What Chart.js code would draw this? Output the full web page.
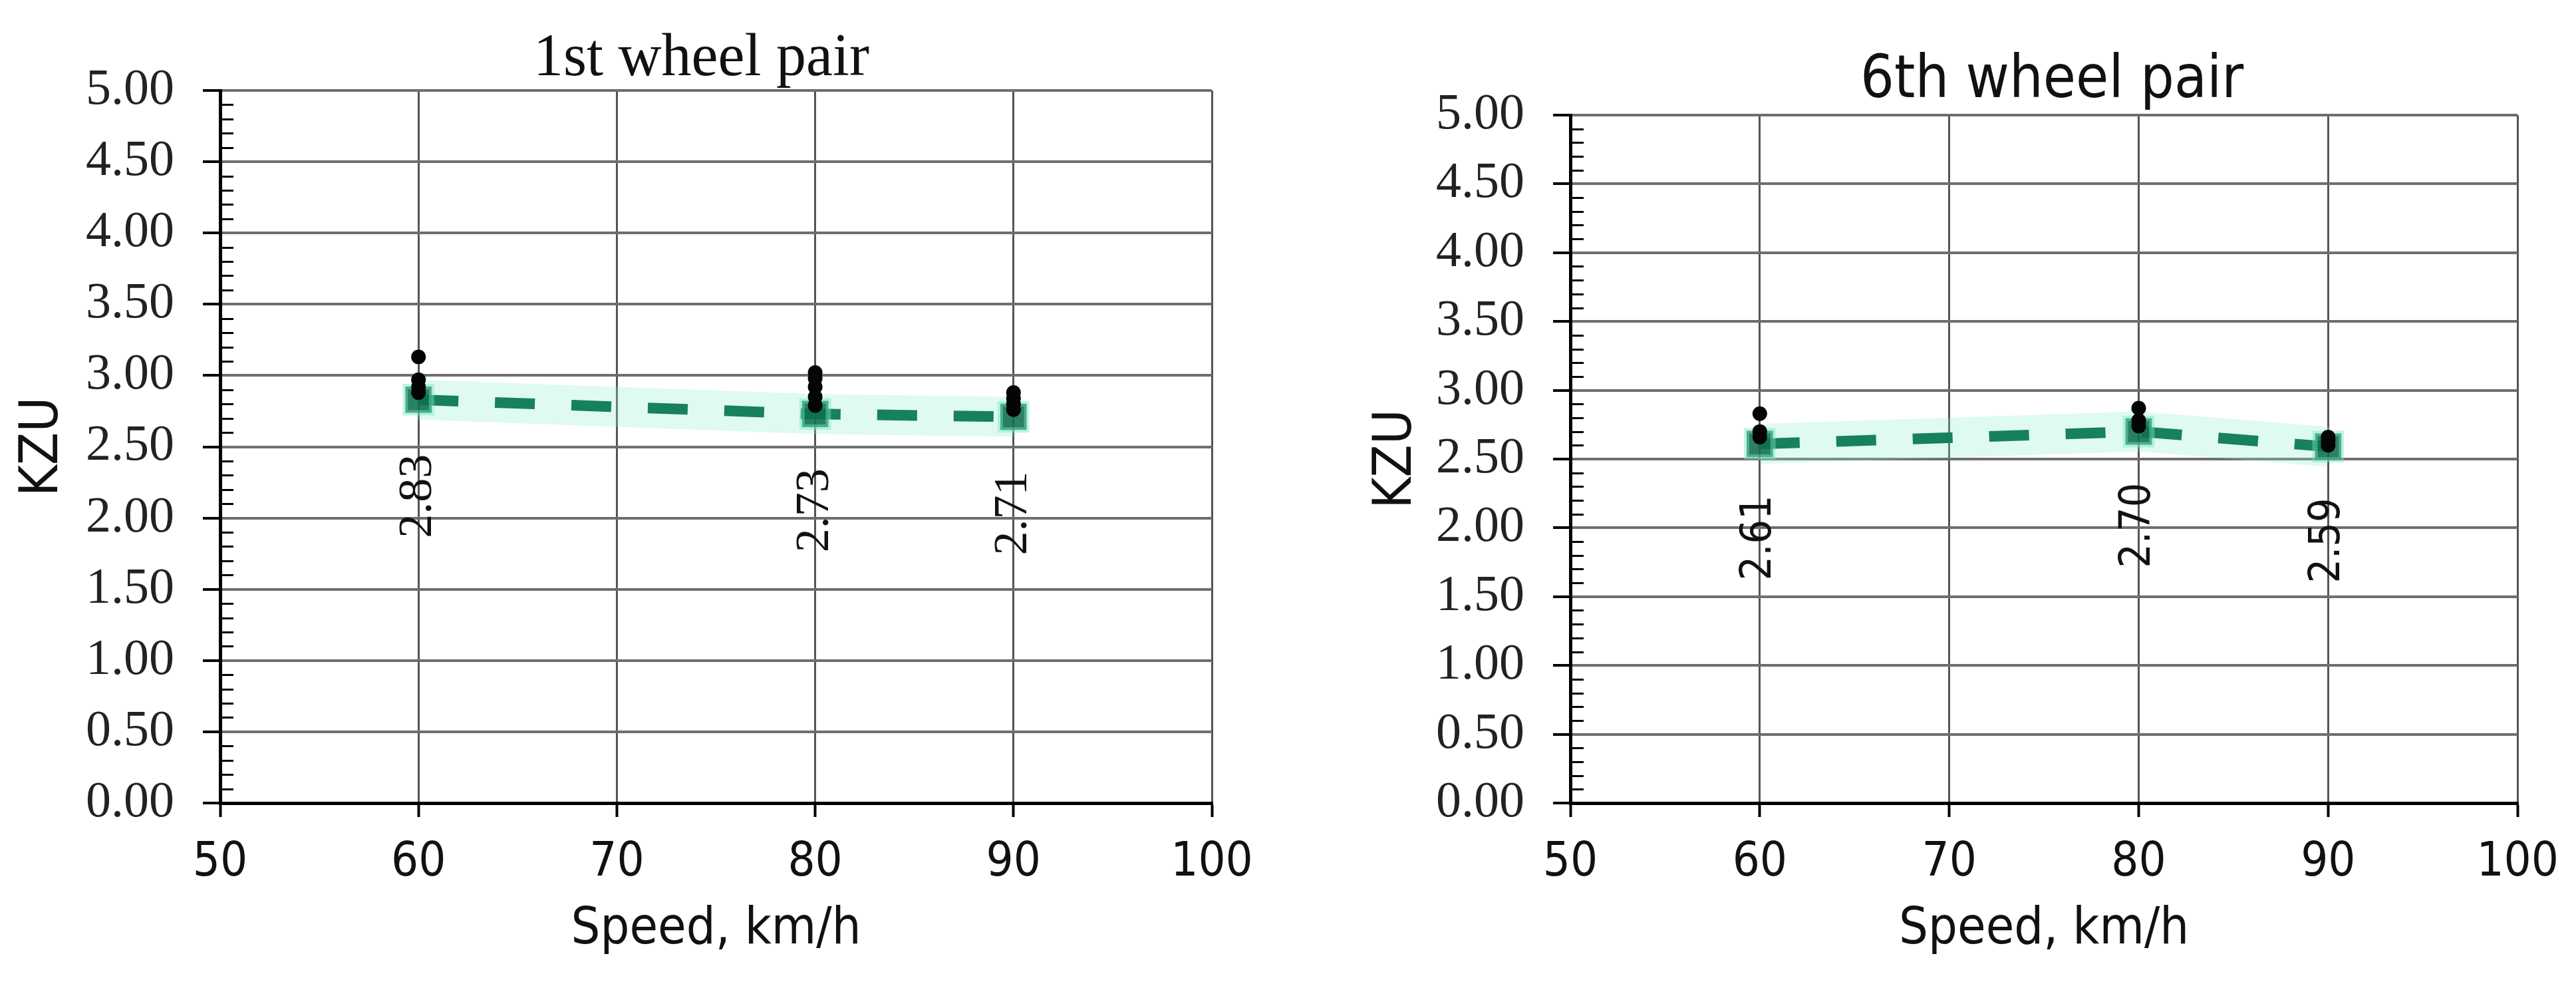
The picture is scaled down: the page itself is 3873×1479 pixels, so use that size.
<!DOCTYPE html>
<html>
<head>
<meta charset="utf-8">
<title>KZU vs speed</title>
<script src="https://cdn.jsdelivr.net/npm/chart.js@4.4.1/dist/chart.umd.min.js"></script>
<style>
  html, body { margin: 0; padding: 0; background: #fff; }
  #wrap { position: relative; width: 3873px; height: 1479px; background: #fff; }
  canvas { position: absolute; top: 0; }
  #chart1 { left: 0; }
  #chart2 { left: 1935px; }
</style>
</head>
<body>
<div id="wrap">
  <canvas id="chart1" width="1935" height="1479"></canvas>
  <canvas id="chart2" width="1938" height="1479"></canvas>
</div>
<script>
// speeds of the test runs, km/h
const speeds = [60, 80, 90];

// axis ticks
const speedTicks = [50, 60, 70, 80, 90, 100];
const kzuTicks = [0, 0.5, 1, 1.5, 2, 2.5, 3, 3.5, 4, 4.5, 5];

// 1st wheel pair: mean KZU and single runs at each speed
const mean1 = [2.83, 2.73, 2.71];
const runs1 = [
  [3.13, 2.97, 2.92, 2.88],
  [3.02, 2.98, 2.92, 2.85, 2.79],
  [2.88, 2.84, 2.80, 2.76]
];

// 6th wheel pair
const mean6 = [2.61, 2.70, 2.59];
const runs6 = [
  [2.83, 2.70, 2.66],
  [2.87, 2.78, 2.74],
  [2.66, 2.63, 2.60]
];

const serif = "'Liberation Serif', 'Times New Roman', serif";
const narrow = "'Liberation Sans Narrow', 'DejaVu Sans Condensed', 'Arial Narrow', sans-serif";

// title centred over the plot, minor ticks on the KZU axis,
// rotated value labels under the mean points
const extras = {
  id: "extras",
  afterDatasetsDraw(chart, args, opts) {
    const { ctx, chartArea, scales: { x, y } } = chart;
    ctx.save();
    ctx.strokeStyle = "#000";
    ctx.lineWidth = 3;
    for (let i = 1; i < 50; i++) {
      if (i % 5 === 0) continue;
      const py = Math.round(y.getPixelForValue(i / 10)) + 0.5;
      ctx.beginPath();
      ctx.moveTo(chartArea.left, py);
      ctx.lineTo(chartArea.left + 20, py);
      ctx.stroke();
    }

    ctx.font = opts.font;
    ctx.fillStyle = "#111";
    ctx.textAlign = "right";
    ctx.textBaseline = "middle";
    opts.means.forEach((m, i) => {
      const px = x.getPixelForValue(speeds[i]);
      const py = y.getPixelForValue(m) + opts.offset;
      ctx.save();
      ctx.translate(px, py);
      ctx.rotate(-Math.PI / 2);
      ctx.fillText(m.toFixed(2), 0, 0);
      ctx.restore();
    });

    // chart title
    ctx.font = opts.titleFont;
    ctx.textAlign = "center";
    ctx.textBaseline = "alphabetic";
    ctx.fillText(opts.title, (chartArea.left + chartArea.right) / 2 + opts.titleShift, opts.titleBase);
    ctx.restore();
  }
};

function makeChart(id, cfg) {
  const pts = (arr) => arr.map((v, i) => ({ x: speeds[i], y: v }));
  const runPts = cfg.runs.flatMap((arr, i) => arr.map(v => ({ x: speeds[i], y: v })));

  return new Chart(document.getElementById(id), {
    type: "scatter",
    data: {
      datasets: [
        {
          // single runs
          data: runPts,
          pointStyle: "circle",
          pointRadius: 11,
          backgroundColor: "#050505",
          borderColor: "#050505",
          borderWidth: 0,
          showLine: false
        },
        {
          // mean markers
          data: pts(cfg.means),
          pointStyle: "rect",
          pointRadius: 28,
          backgroundColor: "rgba(14,110,80,0.88)",
          borderColor: "rgba(120,230,195,0.45)",
          borderWidth: 8,
          showLine: false
        },
        {
          // dashed mean line
          data: pts(cfg.means),
          showLine: true,
          borderColor: "#17805e",
          borderWidth: 16,
          borderDash: [60, 55],
          pointRadius: 0,
          fill: false
        },
        {
          // soft glow under the line
          data: pts(cfg.means),
          showLine: true,
          borderColor: "rgba(140,238,205,0.28)",
          borderWidth: 60,
          pointRadius: 0,
          fill: false
        }
      ]
    },
    options: {
      responsive: false,
      animation: false,
      devicePixelRatio: 1,
      layout: { padding: { left: 0, right: cfg.padRight, top: cfg.padTop, bottom: 0 } },
      plugins: {
        legend: { display: false },
        tooltip: { enabled: false },
        title: { display: false },
        extras: {
          means: cfg.means,
          font: cfg.labelFont,
          offset: cfg.labelOffset,
          title: cfg.title,
          titleFont: cfg.titleFont,
          titleBase: cfg.titleBase,
          titleShift: cfg.titleShift
        }
      },
      scales: {
        x: {
          type: "linear",
          min: 50,
          max: 100,
          afterBuildTicks: (s) => { s.ticks = speedTicks.map(v => ({ value: v })); },
          afterFit: (s) => { s.height = 272; },
          grid: {
            color: "#555",
            lineWidth: 3,
            tickColor: "#000",
            tickWidth: 4,
            tickLength: 21
          },
          border: { color: "#000", width: 5 },
          ticks: {
            color: "#111",
            padding: 26,
            font: { family: narrow, size: 72 }
          },
          title: {
            display: true,
            text: "Speed, km/h",
            color: "#111",
            font: { family: narrow, size: 77, lineHeight: 1 },
            padding: { top: 0, bottom: 43 }
          }
        },
        y: {
          type: "linear",
          min: 0,
          max: 5,
          afterBuildTicks: (s) => { s.ticks = kzuTicks.map(v => ({ value: v })); },
          afterFit: (s) => { s.width = cfg.axisLeft; },
          grid: {
            color: "#6e6e6e",
            lineWidth: 4,
            tickColor: "#000",
            tickWidth: 4,
            tickLength: 26
          },
          border: { color: "#000", width: 5 },
          ticks: {
            color: "#222",
            padding: 43,
            font: { family: serif, size: 76 },
            callback: (v) => Number(v).toFixed(2)
          },
          title: {
            display: true,
            text: "KZU",
            color: "#111",
            font: { family: narrow, size: 80, lineHeight: 1 },
            padding: { top: cfg.kzuPad, bottom: 0 }
          }
        }
      }
    },
    plugins: [extras]
  });
}

makeChart("chart1", {
  title: "1st wheel pair",
  titleFont: "90px " + serif,
  titleBase: 113,
  titleShift: -22,
  padTop: 136,
  means: mean1,
  runs: runs1,
  axisLeft: 331,
  padRight: 113,
  kzuPad: 25,
  labelFont: "72px " + serif,
  labelOffset: 82
});

makeChart("chart2", {
  title: "6th wheel pair",
  titleFont: "89px " + narrow,
  titleBase: 146,
  titleShift: 12,
  padTop: 173,
  means: mean6,
  runs: runs6,
  axisLeft: 426,
  padRight: 70,
  kzuPad: 125,
  labelFont: "64px " + narrow,
  labelOffset: 77
});
</script>
</body>
</html>
